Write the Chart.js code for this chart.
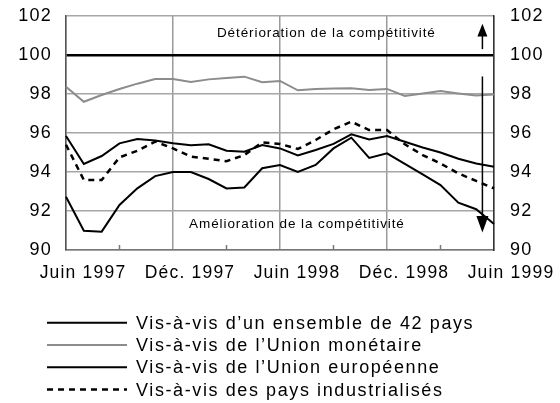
<!DOCTYPE html>
<html>
<head>
<meta charset="utf-8">
<script src="https://cdn.jsdelivr.net/npm/chart.js@4/dist/chart.umd.min.js"></script>
<style>
  html, body { margin: 0; padding: 0; background: #fff; }
  canvas { display: block; }
</style>
</head>
<body>
<canvas id="competitivite" width="560" height="403"></canvas>
<script>
// mois de juin 1997 à juin 1999
const months = [
  '1997-06','1997-07','1997-08','1997-09','1997-10','1997-11','1997-12',
  '1998-01','1998-02','1998-03','1998-04','1998-05','1998-06',
  '1998-07','1998-08','1998-09','1998-10','1998-11','1998-12',
  '1999-01','1999-02','1999-03','1999-04','1999-05','1999-06'
];
const tickLabels = ['Juin 1997', 'Déc. 1997', 'Juin 1998', 'Déc. 1998', 'Juin 1999'];

const pays42 = [92.73, 90.99, 90.94, 92.31, 93.16, 93.79, 94.0, 94.0, 93.64, 93.16, 93.21, 94.19, 94.36,
  94.0, 94.36, 95.21, 95.76, 94.72, 94.96, 94.42, 93.88, 93.33, 92.43, 92.09, 91.33];
const unionMonetaire = [98.37, 97.6, 97.95, 98.26, 98.53, 98.77, 98.77, 98.62, 98.75, 98.82, 98.89, 98.6, 98.67,
  98.19, 98.26, 98.28, 98.3, 98.2, 98.26, 97.9, 98.03, 98.15, 98.03, 97.92, 97.98];
const unionEuropeenne = [95.85, 94.41, 94.82, 95.47, 95.69, 95.62, 95.47, 95.37, 95.42, 95.09, 95.04, 95.38, 95.21,
  94.85, 95.13, 95.44, 95.93, 95.67, 95.85, 95.55, 95.26, 95.0, 94.68, 94.44, 94.27];
const paysIndus = [95.4, 93.59, 93.59, 94.75, 95.09, 95.56, 95.21, 94.79, 94.68, 94.55, 94.87, 95.52, 95.44,
  95.18, 95.64, 96.19, 96.58, 96.15, 96.15, 95.42, 94.87, 94.44, 93.93, 93.54, 93.16];

const seriesNames = [
  'Vis-à-vis d\u2019un ensemble de 42 pays',
  'Vis-à-vis de l\u2019Union monétaire',
  'Vis-à-vis de l\u2019Union européenne',
  'Vis-à-vis des pays industrialisés'
];

const FONT = '"Liberation Sans", Arial, sans-serif';
Chart.defaults.font.family = FONT;
Chart.defaults.color = '#000';

// le texte de l'original est un peu étiré en largeur
const LS = '1.2px';
const spacing = {
  id: 'spacing',
  beforeUpdate(chart) { chart.ctx.letterSpacing = LS; },
  beforeLayout(chart) { chart.ctx.letterSpacing = LS; },
  beforeDraw(chart) { chart.ctx.letterSpacing = LS; }
};

// pas de marge automatique autour des axes : la zone de tracé est fixée par layout.padding
const noPad = s => { s.paddingTop = 0; s.paddingBottom = 0; s.paddingLeft = 0; s.paddingRight = 0; };

// petites graduations trimestrielles, flèches, textes et légende
const extras = {
  id: 'extras',
  afterDraw(chart) {
    const ctx = chart.ctx;
    const x = chart.scales.x, y = chart.scales.y;
    const area = chart.chartArea;
    ctx.save();

    // graduations tous les 3 mois, vers l'intérieur
    ctx.strokeStyle = '#777';
    ctx.lineWidth = 1.5;
    for (let i = 3; i < months.length; i += 6) {
      const px = x.getPixelForValue(i);
      ctx.beginPath();
      ctx.moveTo(px, area.bottom);
      ctx.lineTo(px, area.bottom - 5);
      ctx.stroke();
    }

    // textes
    ctx.letterSpacing = '0.9px';
    ctx.font = '13.5px ' + FONT;
    ctx.fillStyle = '#000';
    ctx.textAlign = 'center';
    ctx.textBaseline = 'middle';
    ctx.fillText('Détérioration de la compétitivité', x.getPixelForValue(14.6), y.getPixelForValue(101.1));
    ctx.fillText('Amélioration de la compétitivité', x.getPixelForValue(12.95), y.getPixelForValue(91.3));

    // flèches
    const ax = x.getPixelForValue(23.35);
    ctx.strokeStyle = '#000';
    ctx.lineWidth = 1.5;
    ctx.beginPath();
    ctx.moveTo(ax, y.getPixelForValue(100.3));
    ctx.lineTo(ax, y.getPixelForValue(101.2));
    ctx.stroke();
    ctx.beginPath();
    ctx.moveTo(ax, y.getPixelForValue(101.6));
    ctx.lineTo(ax - 5, y.getPixelForValue(100.95));
    ctx.lineTo(ax + 5, y.getPixelForValue(100.95));
    ctx.closePath();
    ctx.fill();

    ctx.beginPath();
    ctx.moveTo(ax, y.getPixelForValue(98.9));
    ctx.lineTo(ax, y.getPixelForValue(91.2));
    ctx.stroke();
    ctx.beginPath();
    ctx.moveTo(ax, y.getPixelForValue(90.9));
    ctx.lineTo(ax - 6, y.getPixelForValue(91.75));
    ctx.lineTo(ax + 6, y.getPixelForValue(91.75));
    ctx.closePath();
    ctx.fill();

    // légende
    ctx.letterSpacing = '1.6px';
    ctx.font = '18px ' + FONT;
    ctx.textAlign = 'left';
    chart.data.datasets.forEach((ds, i) => {
      const ly = 322.7 + i * 22.3;
      ctx.strokeStyle = ds.borderColor;
      ctx.lineWidth = ds.borderWidth;
      ctx.setLineDash(ds.borderDash || []);
      ctx.beginPath();
      ctx.moveTo(47, ly);
      ctx.lineTo(127, ly);
      ctx.stroke();
      ctx.setLineDash([]);
      ctx.fillStyle = '#000';
      ctx.fillText(ds.label, 136, ly + 1);
    });
    ctx.restore();
  }
};

new Chart(document.getElementById('competitivite'), {
  type: 'line',
  data: {
    labels: months,
    datasets: [
      { label: seriesNames[0], data: pays42, borderColor: '#000', borderWidth: 2 },
      { label: seriesNames[1], data: unionMonetaire, borderColor: '#8c8c8c', borderWidth: 2 },
      { label: seriesNames[2], data: unionEuropeenne, borderColor: '#000', borderWidth: 2 },
      { label: seriesNames[3], data: paysIndus, borderColor: '#000', borderWidth: 2.5, borderDash: [6, 5] }
    ]
  },
  options: {
    responsive: false,
    animation: false,
    layout: { padding: { top: 16, bottom: 113, left: 0, right: 0 } },
    elements: { point: { radius: 0 }, line: { tension: 0 } },
    plugins: { legend: { display: false }, tooltip: { enabled: false } },
    scales: {
      x: {
        offset: false,
        afterFit: s => { s.height = 40; noPad(s); },
        grid: {
          drawTicks: false,
          color: c => (c.index % 6 === 0 ? '#9a9a9a' : 'rgba(0,0,0,0)'),
          lineWidth: 1.5
        },
        border: { color: '#777', width: 1.5 },
        ticks: {
          autoSkip: false,
          maxRotation: 0,
          padding: 13,
          labelOffset: 17,
          font: { size: 17.5 },
          callback: (v, i) => (i % 6 === 0 ? tickLabels[i / 6] : '')
        }
      },
      y: {
        position: 'left',
        min: 90, max: 102,
        afterFit: s => { s.width = 66; noPad(s); },
        grid: {
          drawTicks: false,
          color: c => (c.tick.value === 100 ? '#000' : '#a6a6a6'),
          lineWidth: c => (c.tick.value === 100 ? 2.5 : 1.5)
        },
        border: { color: '#555', width: 1.5 },
        ticks: { stepSize: 2, padding: 14, font: { size: 18 } }
      },
      y2: {
        position: 'right',
        min: 90, max: 102,
        afterFit: s => { s.width = 66; noPad(s); },
        grid: { drawOnChartArea: false, drawTicks: false },
        border: { color: '#333', width: 1.5 },
        ticks: { stepSize: 2, padding: 16, font: { size: 18 } }
      }
    }
  },
  plugins: [spacing, extras]
});
</script>
</body>
</html>
